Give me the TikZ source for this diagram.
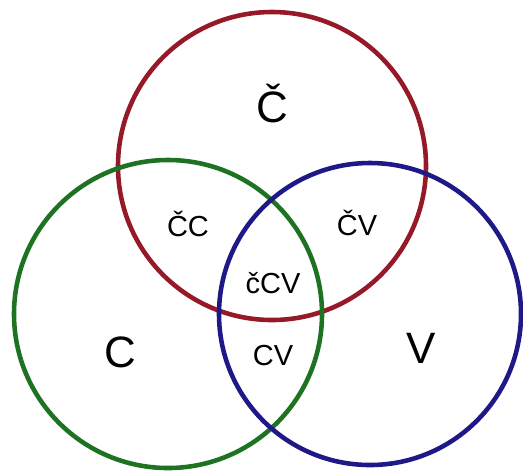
\documentclass[tikz,border=0pt]{standalone}
\usepackage{fontspec}
\setmainfont{Liberation Sans}
\usepackage{xcolor}

\definecolor{setred}{RGB}{150,25,40}
\definecolor{setgreen}{RGB}{30,115,35}
\definecolor{setblue}{RGB}{30,25,135}

\begin{document}
\begin{tikzpicture}[x=0.02cm, y=-0.02cm]
        \useasboundingbox (0,0) rectangle (523,471);

        % Define centres of the three sets
        \coordinate (Cc) at (272, 166);   % Top (red)
        \coordinate (Cg) at (168, 314);   % Bottom-left (green)
        \coordinate (Cb) at (370, 314);   % Bottom-right (blue)

        % Draw the circles
        \draw[line width=2.6pt, setred] (Cc) circle (154);
        \draw[line width=2.6pt, setgreen] (Cg) circle (154);
        \draw[line width=2.6pt, setblue] (Cb) circle (151);

        % Label the regions
        \node (L1) at (272, 104) {\fontsize{25}{27}\selectfont Č};
        \node (L2) at (120, 352) {\fontsize{25}{27}\selectfont C};
        \node (L3) at (421, 348) {\fontsize{25}{27}\selectfont V};
        \node (L4) at (188, 224) {\fontsize{16.5}{18}\selectfont ČC};
        \node (L5) at (357, 223) {\fontsize{16.5}{18}\selectfont ČV};
        \node (L6) at (273, 283) {\fontsize{16.5}{18}\selectfont čCV};
        \node (L7) at (273, 356) {\fontsize{16.5}{18}\selectfont CV};
    \end{tikzpicture}
\end{document}
